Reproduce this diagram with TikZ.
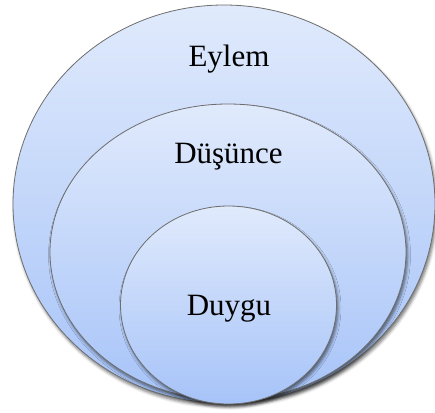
\documentclass[tikz,border=0pt]{standalone}
\usepackage{fontspec}
\setmainfont{Liberation Serif}
\usetikzlibrary{shapes.geometric,shadows.blur}
\definecolor{topblue}{HTML}{E0EAFC}
\definecolor{botblue}{HTML}{A6C3F8}
\definecolor{rimgray}{HTML}{6E6E6E}
\begin{document}
\begin{tikzpicture}[x=1pt,y=-1pt,
  ring/.style={ellipse, draw=rimgray, line width=0.8pt, inner sep=0pt,
    top color=topblue, bottom color=botblue,
    blur shadow={shadow xshift=1.5pt, shadow yshift=-3pt, shadow blur radius=3pt, shadow opacity=55}},
  lbl/.style={font=\fontsize{31}{36}\selectfont, text=black, inner sep=0pt, anchor=base}]
\useasboundingbox (0,0) rectangle (435,412);
\node[ring, minimum width=422pt, minimum height=398pt] (outer) at (224,204) {};
\node[ring, minimum width=356pt, minimum height=296pt] (middle) at (228,252) {};
\node[ring, minimum width=216pt, minimum height=198pt] (inner) at (228.5,305) {};
\node[lbl] (eylem) at (229,66) {Eylem};
\node[lbl] (dusunce) at (228.5,163) {Düşünce};
\node[lbl] (duygu) at (229,315) {Duygu};
\end{tikzpicture}
\end{document}
